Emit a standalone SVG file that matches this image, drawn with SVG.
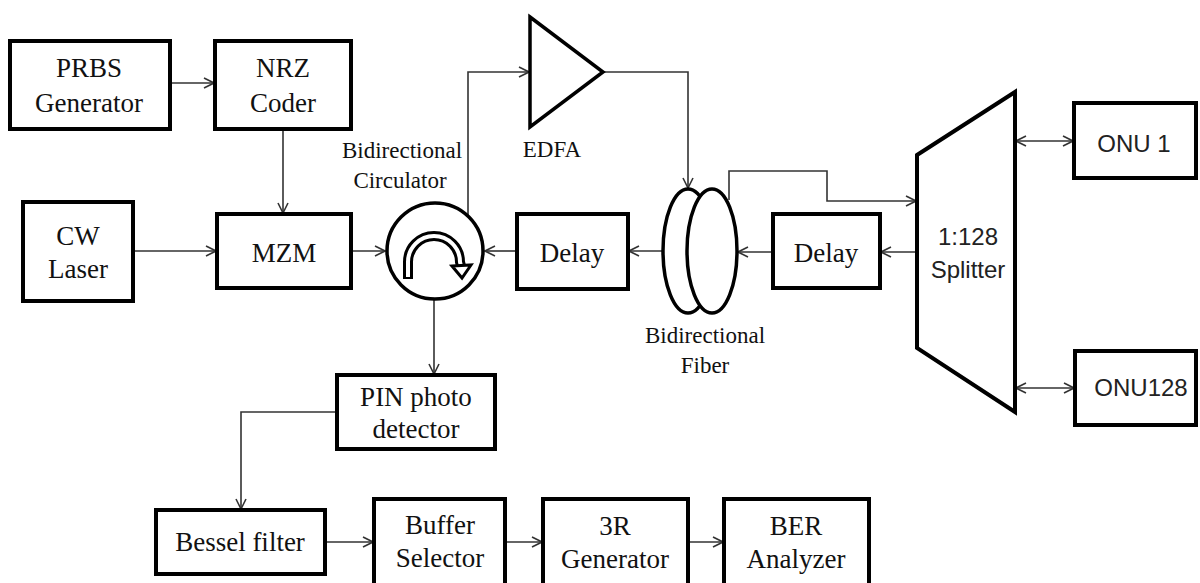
<svg xmlns="http://www.w3.org/2000/svg" width="1200" height="583" viewBox="0 0 1200 583">
<defs>
<style>
.box{fill:#fff;stroke:#000;stroke-width:4}
.shape{fill:#fff;stroke:#000;stroke-width:3.5}
.t{font-family:"Liberation Serif","Times New Roman",serif;font-size:27px;fill:#111;text-anchor:middle}
.sm{font-size:23px}
.s{font-family:"Liberation Sans",Arial,sans-serif;font-size:24px;fill:#222;text-anchor:middle}
.c{fill:none;stroke:#333;stroke-width:1.6}
</style>
<marker id="ah" viewBox="0 0 12 12" refX="11" refY="6" markerWidth="12" markerHeight="12" markerUnits="userSpaceOnUse" orient="auto-start-reverse">
<path d="M1,1 L11,6 L1,11" fill="none" stroke="#333" stroke-width="1.6"/>
</marker>
</defs>
<rect width="1200" height="583" fill="#fff"/>

<g id="connectors">
<path class="c" d="M170,83 L214,83" marker-end="url(#ah)"/>
<path class="c" d="M283,129 L283,213" marker-end="url(#ah)"/>
<path class="c" d="M133,251 L216,251" marker-end="url(#ah)"/>
<path class="c" d="M351,251 L385,251" marker-end="url(#ah)"/>
<path class="c" d="M468,215 L468,72 L529,72" marker-end="url(#ah)"/>
<path class="c" d="M603,72 L688,72 L688,188" marker-end="url(#ah)"/>
<path class="c" d="M663,251 L629,251" marker-end="url(#ah)"/>
<path class="c" d="M517,251 L485,251" marker-end="url(#ah)"/>
<path class="c" d="M773,252 L738,252" marker-end="url(#ah)"/>
<path class="c" d="M917,252 L881,252" marker-end="url(#ah)"/>
<path class="c" d="M729,200 L729,171 L827,171 L827,201 L916,201" marker-end="url(#ah)"/>
<path class="c" d="M1016,141 L1073,141" marker-start="url(#ah)" marker-end="url(#ah)"/>
<path class="c" d="M1016,388 L1074,388" marker-start="url(#ah)" marker-end="url(#ah)"/>
<path class="c" d="M434,300 L434,374" marker-end="url(#ah)"/>
<path class="c" d="M337,412 L241,412 L241,509" marker-end="url(#ah)"/>
<path class="c" d="M325,542 L373,542" marker-end="url(#ah)"/>
<path class="c" d="M505,542 L542,542" marker-end="url(#ah)"/>
<path class="c" d="M688,542 L723,542" marker-end="url(#ah)"/>
</g>

<g id="prbs">
<rect class="box" x="10" y="41" width="160" height="88"/>
<text class="t" x="89" y="77">PRBS</text>
<text class="t" x="89" y="112">Generator</text>
</g>
<g id="nrz">
<rect class="box" x="215" y="41" width="136" height="88"/>
<text class="t" x="283" y="77">NRZ</text>
<text class="t" x="283" y="112">Coder</text>
</g>
<g id="cw">
<rect class="box" x="23" y="202" width="110" height="99"/>
<text class="t" x="78" y="245">CW</text>
<text class="t" x="78" y="278">Laser</text>
</g>
<g id="mzm">
<rect class="box" x="217" y="214" width="134" height="74"/>
<text class="t" x="284" y="262">MZM</text>
</g>
<g id="circulator">
<circle cx="435" cy="251" r="48" fill="#fff" stroke="#000" stroke-width="3.5"/>
<path d="M408,279 L408,262 A26,26 0 0 1 460,262 L461,266" fill="none" stroke="#000" stroke-width="10"/>
<path d="M408,277 L408,262 A26,26 0 0 1 460,262 L461,266" fill="none" stroke="#fff" stroke-width="4"/>
<polygon points="452,266 471,265 462,278" fill="#fff" stroke="#000" stroke-width="3" stroke-linejoin="miter"/>
<text class="t sm" x="402" y="158">Bidirectional</text>
<text class="t sm" x="400" y="188">Circulator</text>
</g>
<g id="edfa">
<polygon class="shape" points="530,17 603,72 530,127"/>
<text class="t sm" x="552" y="157">EDFA</text>
</g>
<g id="delay1">
<rect class="box" x="517" y="214" width="111" height="75"/>
<text class="t" x="572" y="262">Delay</text>
</g>
<g id="fiber">
<ellipse class="shape" cx="688" cy="251" rx="25" ry="62"/>
<ellipse class="shape" cx="712" cy="251" rx="25" ry="62"/>
<text class="t sm" x="705" y="343">Bidirectional</text>
<text class="t sm" x="705" y="373">Fiber</text>
</g>
<g id="delay2">
<rect class="box" x="773" y="214" width="107" height="74"/>
<text class="t" x="826" y="262">Delay</text>
</g>
<g id="splitter">
<polygon class="box" points="917,155 1015,92 1015,412 917,348"/>
<text class="s" x="968" y="245">1:128</text>
<text class="s" x="968" y="278">Splitter</text>
</g>
<g id="onu1">
<rect class="box" x="1074" y="103" width="122" height="75"/>
<text class="s" x="1134" y="152">ONU 1</text>
</g>
<g id="onu128">
<rect class="box" x="1075" y="351" width="121" height="74"/>
<text class="s" x="1141" y="396">ONU128</text>
</g>
<g id="pin">
<rect class="box" x="337" y="375" width="158" height="74"/>
<text class="t" x="416" y="406">PIN photo</text>
<text class="t" x="416" y="438">detector</text>
</g>
<g id="bessel">
<rect class="box" x="156" y="510" width="169" height="64"/>
<text class="t" x="240" y="551">Bessel filter</text>
</g>
<g id="buffer">
<rect class="box" x="374" y="499" width="131" height="92"/>
<text class="t" x="440" y="534">Buffer</text>
<text class="t" x="440" y="567">Selector</text>
</g>
<g id="gen3r">
<rect class="box" x="543" y="499" width="145" height="92"/>
<text class="t" x="615" y="535">3R</text>
<text class="t" x="615" y="568">Generator</text>
</g>
<g id="ber">
<rect class="box" x="724" y="499" width="145" height="92"/>
<text class="t" x="796" y="535">BER</text>
<text class="t" x="796" y="568">Analyzer</text>
</g>
</svg>
